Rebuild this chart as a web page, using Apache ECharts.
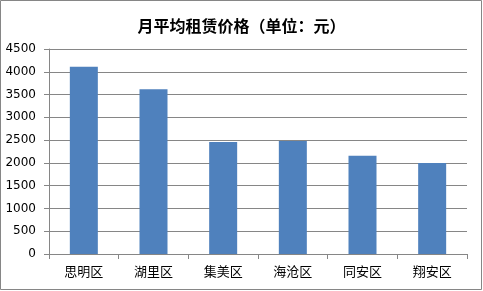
<!DOCTYPE html>
<html><head><meta charset="utf-8">
<script src="https://cdn.jsdelivr.net/npm/echarts@6/dist/echarts.min.js"></script>
<style>html,body{margin:0;padding:0;background:#fff}#c{width:483px;height:291px}</style>
</head><body><div id="c"></div>
<script>
const titleText = '月平均租赁价格（单位：元）';
const categories = ['思明区','湖里区','集美区','海沧区','同安区','翔安区'];
const values = [4110, 3615, 2460, 2480, 2155, 1995];
const yMin = 0, yMax = 4500, yInterval = 500;

const chart = echarts.init(document.getElementById('c'), null, {renderer:'canvas'});
chart.setOption({
  animation:false,
  backgroundColor:'#fff',
  title:{text:titleText,left:'center',top:13,
    textStyle:{fontFamily:'Noto Sans CJK SC',fontSize:16,fontWeight:'bold',color:'#000'}},
  graphic:[{type:'rect',shape:{x:0.5,y:0.5,width:481,height:289},
    style:{fill:'none',stroke:'#868686',lineWidth:1},silent:true}],
  grid:{left:49,right:16,top:49,bottom:37,containLabel:false},
  xAxis:{type:'category',data:categories,
    axisLine:{lineStyle:{color:'#868686',width:1}},
    axisTick:{show:true,length:5,lineStyle:{color:'#868686'}},
    axisLabel:{color:'#000',fontSize:13,fontFamily:'Noto Sans CJK SC',margin:11}},
  yAxis:{type:'value',min:yMin,max:yMax,interval:yInterval,
    axisLine:{show:true,lineStyle:{color:'#868686',width:1}},
    axisTick:{show:true,length:5,lineStyle:{color:'#868686'}},
    splitLine:{lineStyle:{color:'#868686',width:1}},
    axisLabel:{color:'#000',fontSize:12,fontFamily:'DejaVu Sans',margin:13,
      formatter:function(v){return String(v);}}},
  series:[{type:'bar',data:values,barWidth:28,itemStyle:{color:'#4F81BD'}}]
});
</script></body></html>
